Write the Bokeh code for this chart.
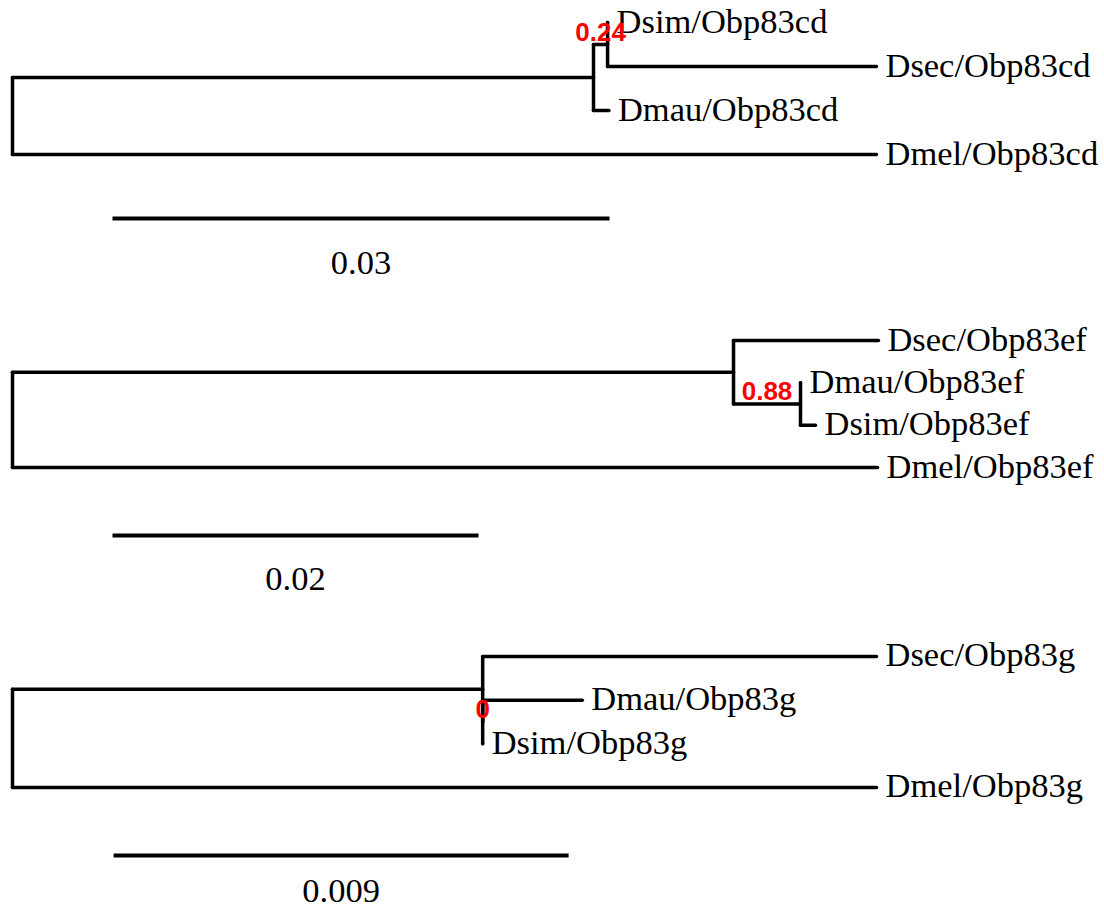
from bokeh.plotting import figure
from bokeh.layouts import column
from bokeh.models import Range1d, ColumnDataSource
from bokeh.core.properties import value
from bokeh.embed import file_html
from bokeh.resources import INLINE

# ---------------- data ----------------
# tips listed bottom -> top; node ids: tips 0..3, internal 4 (root), 5, 6
T1_TIPS = ["Dmel/Obp83cd", "Dmau/Obp83cd", "Dsec/Obp83cd", "Dsim/Obp83cd"]
T1_TIP_X = [0.05215, 0.03600, 0.05215, 0.03592]
T1_NODE_X = [0.0, 0.03507, 0.03592]
T1_CHILDREN = [[0, 5], [1, 6], [2, 3]]
T1_SUPPORT = {6: "0.24"}
T1_SCALE = 0.03
T1_SCALE_LABEL = "0.03"

T2_TIPS = ["Dmel/Obp83ef", "Dsim/Obp83ef", "Dmau/Obp83ef", "Dsec/Obp83ef"]
T2_TIP_X = [0.04727, 0.04388, 0.04306, 0.04732]
T2_NODE_X = [0.0, 0.03940, 0.04306]
T2_CHILDREN = [[0, 5], [3, 6], [1, 2]]
T2_SUPPORT = {6: "0.88"}
T2_SCALE = 0.02
T2_SCALE_LABEL = "0.02"

T3_TIPS = ["Dmel/Obp83g", "Dsim/Obp83g", "Dmau/Obp83g", "Dsec/Obp83g"]
T3_TIP_X = [0.01709, 0.00930, 0.01127, 0.01709]
T3_NODE_X = [0.0, 0.00930, 0.00930]
T3_CHILDREN = [[0, 5], [3, 6], [1, 2]]
T3_SUPPORT = {6: "0"}
T3_SCALE = 0.009
T3_SCALE_LABEL = "0.009"

SERIF = value("Liberation Serif")
SANS = value("Liberation Sans")


def draw_tree(tips, tip_x, node_x, children, support, scale, scale_label,
              height, x_range, y_range, bar_x0, bar_y, bar_lab_y):
    p = figure(width=1104, height=height, output_backend="svg",
               toolbar_location=None, x_axis_location=None, y_axis_location=None,
               x_range=Range1d(*x_range), y_range=Range1d(*y_range),
               min_border=0, background_fill_color="white",
               border_fill_color="white")
    p.grid.visible = False
    p.outline_line_color = None

    n_tip = len(tips)
    xs = {i: tip_x[i] for i in range(n_tip)}
    ys = {i: float(i) for i in range(n_tip)}
    for k in range(len(node_x)):
        xs[n_tip + k] = node_x[k]
    # internal node y from its children (deepest first)
    for k in reversed(range(len(node_x))):
        ch = children[k]
        ys[n_tip + k] = (min(ys[c] for c in ch) + max(ys[c] for c in ch)) / 2.0

    x0, y0, x1, y1 = [], [], [], []
    parent = {}
    for k, ch in enumerate(children):
        nid = n_tip + k
        cy = [ys[c] for c in ch]
        x0.append(xs[nid]); x1.append(xs[nid]); y0.append(min(cy)); y1.append(max(cy))
        for c in ch:
            parent[c] = nid
            x0.append(xs[nid]); x1.append(xs[c]); y0.append(ys[c]); y1.append(ys[c])
    p.segment(x0=x0, y0=y0, x1=x1, y1=y1, line_color="black", line_width=3.5,
              line_cap="round")

    # tip labels
    src = ColumnDataSource(dict(x=[xs[i] for i in range(n_tip)],
                                y=[ys[i] for i in range(n_tip)], t=tips))
    p.text(x="x", y="y", text="t", source=src, text_font=SERIF,
           text_font_size="34.5px", text_color="black", text_align="left",
           text_baseline="middle", x_offset=9, y_offset=-2)

    # support labels on edges
    lx, ly, lt = [], [], []
    for nid, lab in support.items():
        lx.append((xs[parent[nid]] + xs[nid]) / 2.0)
        ly.append(ys[nid])
        lt.append(lab)
    p.text(x=lx, y=ly, text=lt, text_font=SANS, text_font_style="bold",
           text_font_size="26px", text_color="#ff0000", text_align="center",
           text_baseline="middle", y_offset=-13)

    # scale bar
    p.segment(x0=[bar_x0], y0=[bar_y], x1=[bar_x0 + scale], y1=[bar_y],
              line_color="black", line_width=4)
    p.text(x=[bar_x0 + scale / 2.0], y=[bar_lab_y], text=[scale_label],
           text_font=SERIF, text_font_size="34.5px", text_color="black",
           text_align="center", text_baseline="middle")
    return p


p1 = draw_tree(T1_TIPS, T1_TIP_X, T1_NODE_X, T1_CHILDREN, T1_SUPPORT,
               T1_SCALE, T1_SCALE_LABEL, 300,
               (-0.000724, 0.065914), (-3.318, 3.5), 0.006036, -1.455, -2.455)
p2 = draw_tree(T2_TIPS, T2_TIP_X, T2_NODE_X, T2_CHILDREN, T2_SUPPORT,
               T2_SCALE, T2_SCALE_LABEL, 312,
               (-0.000656, 0.059672), (-3.425, 3.945), 0.005464, -1.606, -2.622)
p3 = draw_tree(T3_TIPS, T3_TIP_X, T3_NODE_X, T3_CHILDREN, T3_SUPPORT,
               T3_SCALE, T3_SCALE_LABEL, 299,
               (-0.0002374, 0.0215996), (-2.8395, 4.007), 0.002, -1.557, -2.359)

layout = column(p1, p2, p3, spacing=0)
open("out.html", "w").write(file_html(layout, INLINE))
